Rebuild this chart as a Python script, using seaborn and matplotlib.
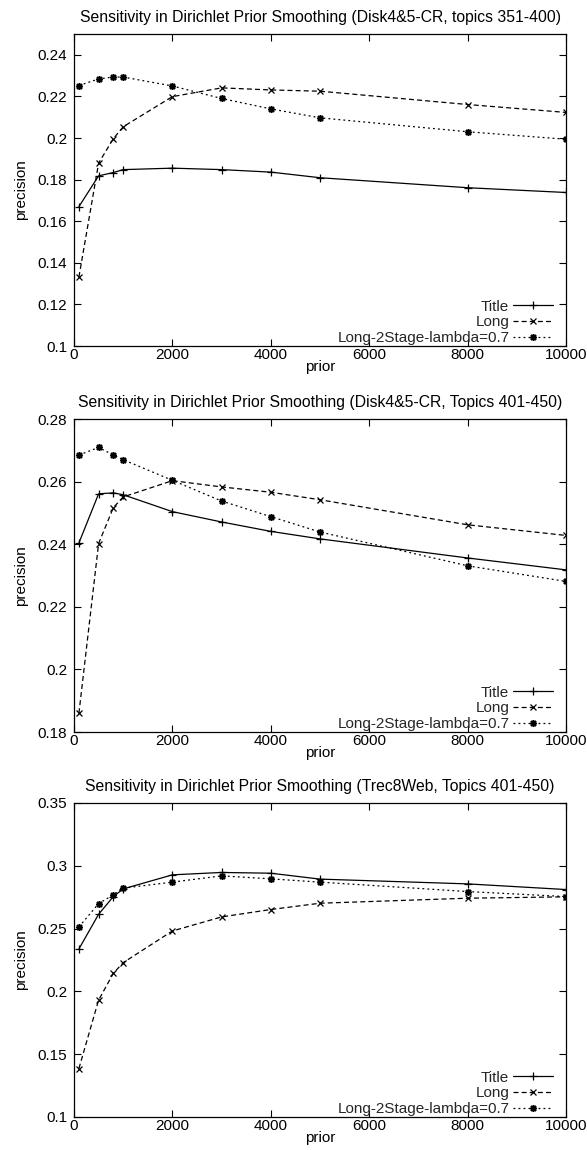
import numpy as np
import pandas as pd
import matplotlib
matplotlib.use("Agg")
import matplotlib.pyplot as plt
import seaborn as sns
from matplotlib.ticker import FuncFormatter, MultipleLocator

sns.set_theme(style="white")
plt.rcParams['font.family'] = ['Liberation Sans', 'DejaVu Sans']

prior = [100, 500, 800, 1000, 2000, 3000, 4000, 5000, 8000, 10000]
series_names = ["Title", "Long", "Long-2Stage-lambda=0.7"]

titles = [
    "Sensitivity in Dirichlet Prior Smoothing (Disk4&5-CR, topics 351-400)",
    "Sensitivity in Dirichlet Prior Smoothing (Disk4&5-CR, Topics 401-450)",
    "Sensitivity in Dirichlet Prior Smoothing (Trec8Web, Topics 401-450)",
]

# Panel 1
p1_title = [0.1670, 0.1818, 0.1834, 0.1848, 0.1855, 0.1848, 0.1836, 0.1809, 0.1761, 0.1738]
p1_long = [0.1332, 0.1879, 0.1997, 0.2054, 0.2199, 0.2241, 0.2231, 0.2225, 0.2161, 0.2123]
p1_2stage = [0.2252, 0.2284, 0.2293, 0.2293, 0.2250, 0.2190, 0.2140, 0.2097, 0.2030, 0.1994]
# Panel 2
p2_title = [0.2404, 0.2561, 0.2564, 0.2558, 0.2504, 0.2471, 0.2441, 0.2417, 0.2356, 0.2318]
p2_long = [0.1860, 0.2402, 0.2517, 0.2551, 0.2603, 0.2583, 0.2566, 0.2542, 0.2462, 0.2428]
p2_2stage = [0.2685, 0.2709, 0.2685, 0.2670, 0.2604, 0.2538, 0.2488, 0.2439, 0.2331, 0.2281]
# Panel 3
p3_title = [0.2338, 0.2614, 0.2755, 0.2816, 0.2928, 0.2947, 0.2941, 0.2894, 0.2856, 0.2811]
p3_long = [0.1386, 0.1931, 0.2144, 0.2229, 0.2481, 0.2593, 0.2652, 0.2702, 0.2742, 0.2753]
p3_2stage = [0.2513, 0.2699, 0.2769, 0.2822, 0.2870, 0.2920, 0.2896, 0.2870, 0.2795, 0.2755]

ylims = [(0.1, 0.25), (0.18, 0.28), (0.1, 0.35)]
ysteps = [0.02, 0.02, 0.05]
panels = [
    (p1_title, p1_long, p1_2stage),
    (p2_title, p2_long, p2_2stage),
    (p3_title, p3_long, p3_2stage),
]

styles = [
    dict(linestyle="-", marker="+", markersize=5.5, markeredgewidth=0.9),
    dict(linestyle=(0, (4, 2.5)), marker="x", markersize=4.5, markeredgewidth=0.9),
    dict(linestyle=(0, (1.5, 2.5)), marker=(8, 2, 0), markersize=5, markeredgewidth=1.1),
]

W, H = 587, 1150
fig = plt.figure(figsize=(W / 100, H / 100), dpi=100)
boxes = [(34, 346), (419, 732), (803, 1117)]
left_px, right_px = 74, 566
FS = 11

for i, (top, bot) in enumerate(boxes):
    ax = fig.add_axes([left_px / W, 1 - bot / H, (right_px - left_px) / W, (bot - top) / H])
    for name, vals, st in zip(series_names, panels[i], styles):
        df = pd.DataFrame({"prior": prior, "precision": vals})
        sns.lineplot(data=df, x="prior", y="precision", ax=ax, color="black",
                     linewidth=0.9, label=name, markeredgecolor="black", **st)
    ax.set_xlim(0, 10000)
    ax.set_ylim(*ylims[i])
    ax.xaxis.set_major_locator(MultipleLocator(2000))
    ax.yaxis.set_major_locator(MultipleLocator(ysteps[i]))
    ax.yaxis.set_major_formatter(FuncFormatter(lambda v, p: "%g" % round(v, 4)))
    ax.xaxis.set_major_formatter(FuncFormatter(lambda v, p: "%g" % v))
    ax.tick_params(direction="in", length=5, width=0.8, top=True, right=True,
                   bottom=True, left=True, labelsize=FS, colors="black")
    ax.tick_params(axis="x", pad=1.5)
    ax.tick_params(axis="y", pad=5)
    for s in ax.spines.values():
        s.set_color("black")
        s.set_linewidth(0.9)
    ax.set_xlabel("prior", fontsize=FS, labelpad=-1.5, color="black")
    ax.set_ylabel("precision", fontsize=FS, labelpad=7, color="black")
    ax.set_title(titles[i], fontsize=11.3, pad=8.5, color="black")
    handles, labels = ax.get_legend_handles_labels()
    dx = 7 / (right_px - left_px)
    dy = 5 / (bot - top)
    ax.legend(handles, labels, loc="lower right", bbox_to_anchor=(1 - dx, -dy),
              frameon=False, markerfirst=False, fontsize=FS, handlelength=2.6,
              labelspacing=0.1, borderaxespad=0, handletextpad=0.25)
    ax.grid(False)

fig.savefig("out.png", dpi=100)
